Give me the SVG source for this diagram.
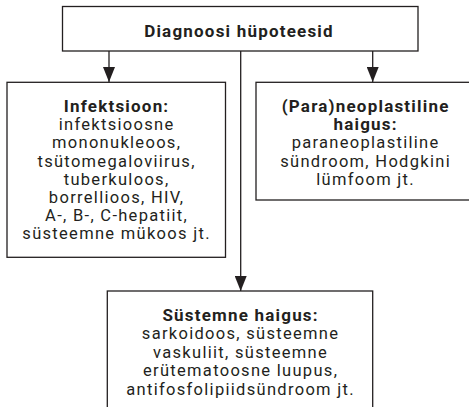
<svg xmlns="http://www.w3.org/2000/svg" width="469" height="407" viewBox="0 0 469 407">
<defs>
<style>
.box{fill:#fff;stroke:#231f20;stroke-width:1.3}
.ln{stroke:#231f20;stroke-width:1.3;fill:none}
text{font-family:Roboto,"Noto Sans",sans-serif;font-size:16.5px;letter-spacing:1.3px;fill:#231f20;text-anchor:middle}
.b{font-weight:bold;font-size:17px;letter-spacing:1.2px}
</style>
<marker id="arr" viewBox="0 0 12 15" refX="6" refY="15" markerWidth="12" markerHeight="15" markerUnits="userSpaceOnUse" orient="0">
<path d="M0,0 L12,0 L6,15 Z" fill="#231f20"/>
</marker>
</defs>
<rect width="469" height="407" fill="#fff"/>
<g id="connectors">
<line class="ln" x1="109" y1="51" x2="109" y2="82" marker-end="url(#arr)"/>
<line class="ln" x1="240.7" y1="51" x2="240.7" y2="291" marker-end="url(#arr)"/>
<line class="ln" x1="372.7" y1="51" x2="372.7" y2="82" marker-end="url(#arr)"/>
</g>
<g id="top">
<rect class="box" x="62.5" y="6.5" width="355.5" height="44.5"/>
<text class="b" x="239" y="37">Diagnoosi hüpoteesid</text>
</g>
<g id="infektsioon">
<rect class="box" x="7" y="82.3" width="218.5" height="175"/>
<text class="b" x="116.6" y="112">Infektsioon:</text>
<text x="116.6" y="130.2">infektsioosne</text>
<text x="116.6" y="148.4">mononukleoos,</text>
<text x="116.6" y="166.6">tsütomegaloviirus,</text>
<text x="116.6" y="184.8">tuberkuloos,</text>
<text x="116.6" y="203">borrellioos, HIV,</text>
<text x="116.6" y="221.2">A-, B-, C-hepatiit,</text>
<text x="116.6" y="239.4">süsteemne mükoos jt.</text>
</g>
<g id="neoplastiline">
<rect class="box" x="256" y="82.3" width="220" height="117.7"/>
<text class="b" x="365.6" y="112">(Para)neoplastiline</text>
<text class="b" x="365.6" y="130.2">haigus:</text>
<text x="365.6" y="148.4">paraneoplastiline</text>
<text x="365.6" y="166.6">sündroom, Hodgkini</text>
<text x="365.6" y="184.8">lümfoom jt.</text>
</g>
<g id="systeemne">
<rect class="box" x="107.3" y="291" width="265.4" height="125"/>
<text class="b" x="240.6" y="320.7">Süstemne haigus:</text>
<text x="240.6" y="339.2">sarkoidoos, süsteemne</text>
<text x="240.6" y="357.7">vaskuliit, süsteemne</text>
<text x="240.6" y="376.2">erütematoosne luupus,</text>
<text x="240.6" y="394.7">antifosfolipiidsündroom jt.</text>
</g>
</svg>
